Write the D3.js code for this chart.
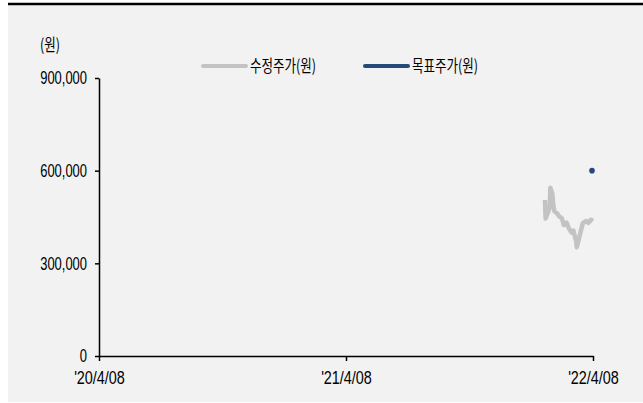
<!DOCTYPE html>
<html>
<head>
<meta charset="utf-8">
<script src="https://cdn.jsdelivr.net/npm/d3@7"></script>
<style>
  body { margin: 0; background: #fff; }
  text { font-family: "Liberation Sans", "Noto Sans CJK KR", sans-serif; fill: #000; }
</style>
</head>
<body>
<div class="canvas"></div>
<script>
// data
const priceDates = [
  "2022-01-27", "2022-01-28", "2022-02-03", "2022-02-04", "2022-02-07", "2022-02-08",
  "2022-02-09", "2022-02-10", "2022-02-14", "2022-02-17", "2022-02-21", "2022-02-24",
  "2022-02-28", "2022-03-03", "2022-03-07", "2022-03-10", "2022-03-14", "2022-03-15",
  "2022-03-17", "2022-03-21", "2022-03-24", "2022-03-29", "2022-04-01", "2022-04-05",
  "2022-04-08"
];
const priceValues = [
  505000, 445000, 480000, 545000, 525000, 495000,
  480000, 468000, 462000, 452000, 446000, 424000,
  432000, 415000, 400000, 406000, 372000, 352000,
  368000, 405000, 430000, 437000, 431000, 441000,
  437000
];
const targetDates = ["2022-04-08"];
const targetValues = [600000];
const xTickDates = ["2020-04-08", "2021-04-08", "2022-04-08"];
const xTickLabels = ["'20/4/08", "'21/4/08", "'22/4/08"];
const yTicks = [0, 300000, 600000, 900000];
const seriesNames = ["수정주가(원)", "목표주가(원)"];
const seriesColors = ["#c3c3c3", "#244a7c"];

const width = 643;
const height = 403;
const margin = { top: 78, left: 99, right: 50, bottom: 47 };
const graphWidth = width - margin.left - margin.right;
const graphHeight = height - margin.top - margin.bottom;

const parse = d3.timeParse("%Y-%m-%d");

const svg = d3
  .select(".canvas")
  .append("svg")
  .attr("width", width)
  .attr("height", height);

// background + top rule
svg.append("rect")
  .attr("x", 8).attr("y", 4)
  .attr("width", width - 8).attr("height", 398)
  .attr("fill", "#f2f2f2");
svg.append("line")
  .attr("x1", 8).attr("x2", width)
  .attr("y1", 4).attr("y2", 4)
  .attr("stroke", "#000").attr("stroke-width", 2.5);

const graph = svg
  .append("g")
  .attr("transform", `translate(${margin.left},${margin.top})`);

// scales
const x = d3.scaleTime()
  .domain([parse(xTickDates[0]), parse(xTickDates[2])])
  .range([0, graphWidth]);
const y = d3.scaleLinear().domain([0, 900000]).range([graphHeight, 0]);

// axes
const xAxis = d3.axisBottom(x)
  .tickValues(xTickDates.map(parse))
  .tickFormat((d, i) => xTickLabels[i])
  .tickSize(5)
  .tickSizeOuter(0)
  .tickPadding(10);
const yAxis = d3.axisLeft(y)
  .tickValues(yTicks)
  .tickFormat(d3.format(","))
  .tickSize(4)
  .tickSizeOuter(0)
  .tickPadding(8);

const yAxisGroup = graph.append("g").call(yAxis);
const xAxisGroup = graph.append("g")
  .attr("transform", `translate(0,${graphHeight})`)
  .call(xAxis);

// squeeze tick labels to look condensed
const squeeze = (g, sx) => {
  g.selectAll("path, line").attr("stroke", "#000").attr("stroke-width", 1.5);
  g.selectAll("text")
    .style("font-family", '"Liberation Sans", sans-serif')
    .style("font-size", "18px")
    .attr("fill", "#000")
    .each(function () {
      const t = d3.select(this);
      const tx = +t.attr("x") || 0;
      t.attr("x", 0).attr("transform", `translate(${tx},0) scale(${sx},1)`);
    });
};
squeeze(yAxisGroup, 0.72);
squeeze(xAxisGroup, 0.8);

// condensed korean text helper
const krText = (px, py, str) =>
  svg.append("text")
    .attr("transform", `translate(${px},${py}) scale(0.76,1)`)
    .style("font-family", '"Noto Sans CJK KR", sans-serif')
    .style("font-size", "16.5px")
    .text(str);

// unit label
krText(40, 51, "(원)");

// price line
const priceData = priceDates.map((d, i) => ({ date: parse(d), value: priceValues[i] }));
const line = d3.line()
  .x((d) => x(d.date))
  .y((d) => y(d.value));

graph.append("path")
  .datum(priceData)
  .attr("fill", "none")
  .attr("stroke", seriesColors[0])
  .attr("stroke-width", 4.5)
  .attr("stroke-linejoin", "round")
  .attr("d", line);

// target price points
graph.selectAll("circle")
  .data(targetDates.map((d, i) => ({ date: parse(d), value: targetValues[i] })))
  .enter()
  .append("circle")
  .attr("cx", (d) => x(d.date) - 1)
  .attr("cy", (d) => y(d.value))
  .attr("r", 2.8)
  .attr("fill", seriesColors[1]);

// legend
const legendX = [203, 365];
seriesNames.forEach((name, i) => {
  svg.append("line")
    .attr("x1", legendX[i]).attr("x2", legendX[i] + 43)
    .attr("y1", 66).attr("y2", 66)
    .attr("stroke", seriesColors[i])
    .attr("stroke-width", 4)
    .attr("stroke-linecap", "round");
  krText(legendX[i] + 47, 72, name);
});
</script>
</body>
</html>
